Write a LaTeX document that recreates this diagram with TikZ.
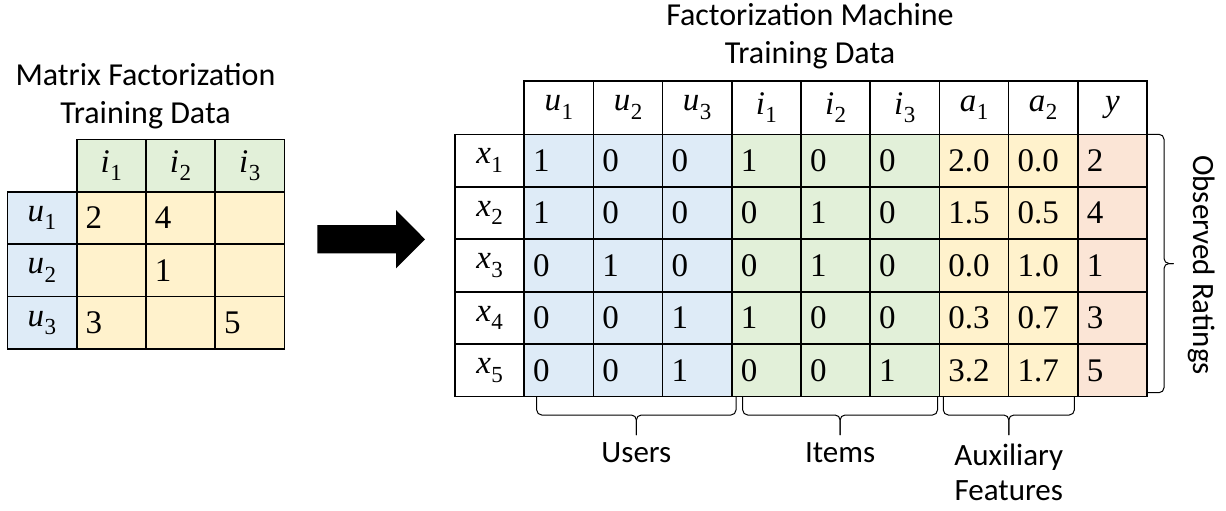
\documentclass[tikz,border=0pt]{standalone}
\usepackage{fontspec}
\newfontfamily\labelfont{Carlito}
\newfontfamily\cellfont{Liberation Serif}
\usetikzlibrary{calc}

\definecolor{userblue}{HTML}{DEEBF7}
\definecolor{itemgreen}{HTML}{E2F0D9}
\definecolor{auxyellow}{HTML}{FFF2CC}
\definecolor{ratingpink}{HTML}{FBE5D6}

% italic symbol with an upright subscript index
\newcommand\idxsym[2]{\textit{#1}\kern0.5pt\raisebox{-0.25em}{\fontsize{23}{23}\selectfont #2}}

\begin{document}
\begin{tikzpicture}[x=1pt,y=-1pt,
  cell/.style={draw=black, line width=1.6pt, minimum height=52.4pt,
    inner xsep=9pt, inner ysep=0pt, text width=51.2pt,
    font=\cellfont\fontsize{33}{36}\selectfont},
  valcell/.style={cell, align=left},
  headcell/.style={cell, align=center},
  col1/.style={fill=userblue}, col2/.style={fill=userblue}, col3/.style={fill=userblue},
  col4/.style={fill=itemgreen}, col5/.style={fill=itemgreen}, col6/.style={fill=itemgreen},
  col7/.style={fill=auxyellow}, col8/.style={fill=auxyellow},
  col9/.style={fill=ratingpink},
  title/.style={align=center, inner sep=0pt, font=\labelfont\fontsize{32}{38}\selectfont},
  lbl/.style={inner sep=0pt, align=center, font=\labelfont\fontsize{31}{35}\selectfont},
  bracestyle/.style={draw=black, line width=1pt, rounded corners=5pt}
]
\useasboundingbox (0,0) rectangle (1226,511);

% ---------- matrix factorization table ----------
\node[title] (mftitle) at (145.5,96) {Matrix Factorization\\Training Data};
\foreach \c in {1,2,3}
  \node[headcell, fill=itemgreen] (mf-h\c) at ({76.7+34.6+69.2*(\c-1)},165.6) {\idxsym{i}{\c}};
\foreach \r in {1,2,3}
  \node[headcell, fill=userblue] (mf-u\r) at (41.9,{217.9+52.4*(\r-1)}) {\idxsym{u}{\r}};
\foreach \vals [count=\r] in {{2,4,{}},{{},1,{}},{3,{},5}}
  \foreach \v [count=\c] in \vals
    \node[valcell, fill=auxyellow] (mf-\r-\c) at ({76.7+34.6+69.2*(\c-1)},{217.9+52.4*(\r-1)}) {\v};

% ---------- arrow ----------
\fill[black] (317.3,225) -- (396,225) -- (396,210) -- (425,239.3)
  -- (396,268.3) -- (396,253.3) -- (317.3,253.3) -- cycle;

% ---------- factorization machine table ----------
\node[title] (fmtitle) at (810,36) {Factorization Machine\\Training Data};
\foreach \s/\i [count=\c] in {u/1,u/2,u/3,i/1,i/2,i/3,a/1,a/2}
  \node[headcell, fill=white, minimum height=53.6pt] (fm-h\c) at ({524.2+34.6+69.2*(\c-1)},107.5) {\idxsym{\s}{\i}};
\node[headcell, fill=white, minimum height=53.6pt] (fm-h9) at ({524.2+34.6+69.2*8},107.5) {\textit{y}};
\foreach \r in {1,...,5}
  \node[headcell, fill=white] (fm-x\r) at (489.6,{134.3+26.24+52.48*(\r-1)}) {\idxsym{x}{\r}};
\foreach \vals [count=\r] in {
    {1,0,0,1,0,0,2.0,0.0,2},
    {1,0,0,0,1,0,1.5,0.5,4},
    {0,1,0,0,1,0,0.0,1.0,1},
    {0,0,1,1,0,0,0.3,0.7,3},
    {0,0,1,0,0,1,3.2,1.7,5}}
  \foreach \v [count=\c] in \vals
    \node[valcell, col\c] (fm-\r-\c) at ({524.2+34.6+69.2*(\c-1)},{134.3+26.24+52.48*(\r-1)}) {\v};

% ---------- braces ----------
\coordinate (ub-l) at (536.7,396.7);  \coordinate (ub-r) at (736,396.7);
\coordinate (ib-l) at (742.7,396.7);  \coordinate (ib-r) at (937.5,396.7);
\coordinate (ab-l) at (943.3,396.7);  \coordinate (ab-r) at (1074.3,396.7);
\foreach \b in {ub,ib,ab} {
  \draw[bracestyle] (\b-l) -- ($(\b-l)+(0,18.3)$) -- ($(\b-l)!.5!(\b-r)+(0,18.3)$) -- ($(\b-l)!.5!(\b-r)+(0,38.3)$);
  \draw[bracestyle] (\b-r) -- ($(\b-r)+(0,18.3)$) -- ($(\b-l)!.5!(\b-r)+(0,18.3)$) -- ($(\b-l)!.5!(\b-r)+(0,38.3)$);
}
\coordinate (rb-t) at (1147,134.3);  \coordinate (rb-b) at (1147,392.7);
\draw[bracestyle] (rb-t) -- ($(rb-t)+(17,0)$) -- ($(rb-t)!.5!(rb-b)+(17,0)$) -- ($(rb-t)!.5!(rb-b)+(26.5,0)$);
\draw[bracestyle] (rb-b) -- ($(rb-b)+(17,0)$) -- ($(rb-t)!.5!(rb-b)+(17,0)$) -- ($(rb-t)!.5!(rb-b)+(26.5,0)$);

% ---------- group labels ----------
\node[lbl] (users) at (636.4,453) {Users};
\node[lbl] (items) at (840.1,453) {Items};
\node[lbl] (aux) at (1008.8,472) {Auxiliary\\Features};
\node[lbl, rotate=-90] (observed) at (1202,265) {Observed Ratings};
\end{tikzpicture}
\end{document}
